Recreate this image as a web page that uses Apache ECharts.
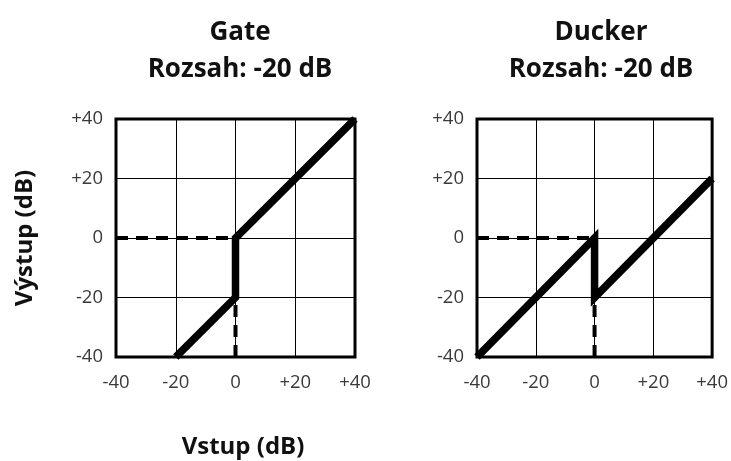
<!DOCTYPE html>
<html>
<head>
<meta charset="utf-8">
<script src="https://cdn.jsdelivr.net/npm/echarts@6/dist/echarts.min.js"></script>
<style>html,body{margin:0;padding:0;background:#fff}#c{width:731px;height:461px}</style>
</head>
<body>
<div id="c"></div>
<script>
var axisTicks = [-40, -20, 0, 20, 40];
var gateCurve = [[-20, -40], [0, -20], [0, 0], [40, 40]];
var gateDashH = [[-40, 0], [0, 0]];
var gateDashV = [[0, -40], [0, -20]];
var duckerCurve = [[-40, -40], [0, 0], [0, -20], [40, 20]];
var duckerDashH = [[-40, 0], [0, 0]];
var duckerDashV = [[0, -40], [0, -20]];
var titles = ['Gate', 'Ducker'];
var subtitle = 'Rozsah: -20 dB';
var xName = 'Vstup (dB)';
var yName = 'Výstup (dB)';

var FONT = '"Open Sans", "Noto Sans", sans-serif';
function fmt(v) { return v > 0 ? '+' + v : String(v); }
function mkAxis(idx) {
  return {
    type: 'value', gridIndex: idx,
    min: axisTicks[0], max: axisTicks[axisTicks.length - 1], interval: 20,
    axisLine: { show: false }, axisTick: { show: false },
    splitLine: { show: true, lineStyle: { color: '#000', width: 1 } },
    axisLabel: { formatter: fmt, color: '#3a3a3a', fontFamily: FONT, fontSize: 18.5 }
  };
}
var xAxes = [mkAxis(0), mkAxis(1)];
var yAxes = [mkAxis(0), mkAxis(1)];
xAxes.forEach(function (a) { a.axisLabel.margin = 16; });
yAxes.forEach(function (a) { a.axisLabel.margin = 13; a.axisLabel.padding = [10, 0, 0, 0]; });

function lineS(i, data) {
  return { type: 'line', xAxisIndex: i, yAxisIndex: i, data: data, symbol: 'none', z: 5,
    lineStyle: { color: '#000', width: 7.5, join: 'miter', cap: 'butt' }, clip: true };
}
function dashS(i, data) {
  return { type: 'line', xAxisIndex: i, yAxisIndex: i, data: data, symbol: 'none', z: 4,
    lineStyle: { color: '#000', width: 4, type: [12, 8] } };
}
var tStyle = { fontFamily: FONT, fontWeight: 'bold', fontSize: 26, color: '#111' };
var chart = echarts.init(document.getElementById('c'));
chart.setOption({
  animation: false,
  backgroundColor: '#fff',
  title: [
    { text: titles[0], left: 235, top: 15, textAlign: 'center', textStyle: tStyle },
    { text: subtitle, left: 235, top: 52, textAlign: 'center', textStyle: tStyle },
    { text: titles[1], left: 596, top: 15, textAlign: 'center', textStyle: tStyle },
    { text: subtitle, left: 596, top: 52, textAlign: 'center', textStyle: tStyle },
    { text: xName, left: 238, top: 430, textAlign: 'center', textStyle: { fontFamily: FONT, fontWeight: 'bold', fontSize: 24, color: '#111' } }
  ],
  graphic: [{
    type: 'text', x: 25, y: 238, rotation: Math.PI / 2,
    style: { text: yName, font: 'bold 24px ' + FONT, fill: '#111', align: 'center', verticalAlign: 'middle' }
  }],
  grid: [
    { left: 116, top: 119, width: 239, height: 238, show: true, borderColor: '#000', borderWidth: 3 },
    { left: 477, top: 119, width: 238, height: 238, show: true, borderColor: '#000', borderWidth: 3 }
  ],
  xAxis: xAxes,
  yAxis: yAxes,
  series: [
    dashS(0, gateDashH), dashS(0, gateDashV), lineS(0, gateCurve),
    dashS(1, duckerDashH), dashS(1, duckerDashV), lineS(1, duckerCurve)
  ]
});
</script>
</body>
</html>
